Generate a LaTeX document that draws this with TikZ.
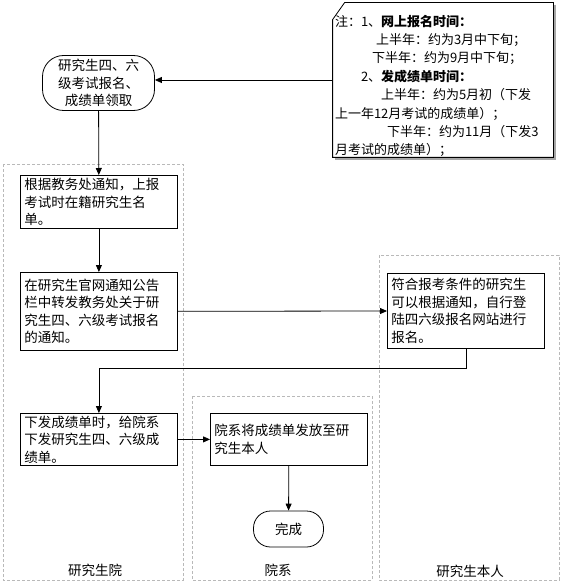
\documentclass[tikz,border=0pt]{standalone}
\usepackage{fontspec}
\newfontfamily\cjk{Noto Sans CJK SC}
\usetikzlibrary{positioning, arrows.meta, shadows}

\tikzset{
  lane/.style = {draw=gray!55, dash pattern=on 3pt off 2pt, line width=0.7pt},
  lanelabel/.style = {font=\cjk\fontsize{13.5}{16}\selectfont, inner sep=0pt},
  procbox/.style = {draw, rectangle, anchor=north west, line width=0.8pt, fill=white,
    text width=149pt, inner xsep=4pt, inner ysep=2pt, align=left,
    font=\cjk\fontsize{13.5}{17.5}\selectfont,
    drop shadow={shadow xshift=1pt, shadow yshift=-1pt, fill=gray!70, opacity=1}},
  termbox/.style = {draw, rectangle, line width=0.8pt, fill=white, align=center,
    font=\cjk\fontsize{13.5}{17.5}\selectfont, inner sep=0pt},
  notetext/.style = {rectangle, minimum width=220pt, minimum height=154pt,
    text width=216pt, inner xsep=2pt, inner ysep=0pt, align=left,
    font=\cjk\fontsize{13}{18.4}\selectfont},
  noteline/.style = {line width=0.8pt}
}

\begin{document}
\begin{tikzpicture}[x=1pt, y=-1pt, >={Triangle[length=7pt, width=6pt]}, line width=0.8pt]
  \useasboundingbox (0,0) rectangle (564,588);

  % swimlanes
  \draw[lane] (3,164) rectangle (183,580);
  \draw[lane] (192,396) rectangle (372,580);
  \draw[lane] (379,255) rectangle (559,580);
  \node[lanelabel] (lblyjsy) at (95,570) {研究生院};
  \node[lanelabel] (lblyx)   at (278,570) {院系};
  \node[lanelabel] (lblbr)   at (470,571) {研究生本人};

  % note with cut corner
  \node[notetext] (note) at (443,80) {\rule{0pt}{23pt}注：1、\textbf{网上报名时间：}\\
    \hspace*{41pt}上半年：约为3月中下旬；\\
    \hspace*{37pt}下半年：约为9月中下旬；\\
    \hspace*{26pt}2、\textbf{发成绩单时间：}\\
    \hspace*{46pt}上半年：约为5月初（下发\\
    上一年12月考试的成绩单）；\\
    \hspace*{52pt}下半年：约为11月（下发3\\
    月考试的成绩单）；};
  \draw[gray!70, line width=1.5pt] ([shift={(1.5,2)}]note.north east) -- ([shift={(1.5,1.5)}]note.south east)
    -- ([shift={(2,1.5)}]note.south west);
  \draw[noteline] ([shift={(0,17)}]note.north west) -- ([shift={(12,0)}]note.north west)
    -- (note.north east) -- (note.south east) -- (note.south west) -- cycle;

  % flow
  \node[termbox, rounded corners=21pt, minimum width=112pt, minimum height=55pt] (start) at (98.5,83)
    {研究生四、六\\级考试报名、\\成绩单领取};
  \node[procbox, minimum height=53pt] (report) at (20,175)
    {根据教务处通知，上报\\考试时在籍研究生名\\单。};
  \node[procbox, minimum height=78pt] (notice) at (20,272)
    {在研究生官网通知公告\\栏中转发教务处关于研\\究生四、六级考试报名\\的通知。};
  \node[procbox, minimum height=75pt] (signup) at (387,273)
    {符合报考条件的研究生\\可以根据通知，自行登\\陆四六级报名网站进行\\报名。};
  \node[procbox, minimum height=52pt] (issue) at (20,413)
    {下发成绩单时，给院系\\下发研究生四、六级成\\绩单。};
  \node[procbox, minimum height=52pt] (hand) at (210,413)
    {院系将成绩单发放至研\\究生本人};
  \node[termbox, rounded corners=17pt, minimum width=70pt, minimum height=36pt] (done) at (288.5,529)
    {完成};

  \draw[->] (note.west) -- (note.west -| start.east);
  \draw[->] (start) -- (report);
  \draw[->] (report) -- (notice);
  \draw[->] (notice) -- (signup);
  \draw[->] (signup.south) -- ++(0,20) -| (issue.north);
  \draw[->] (issue) -- (hand);
  \draw[->] (hand) -- (done);
\end{tikzpicture}
\end{document}
